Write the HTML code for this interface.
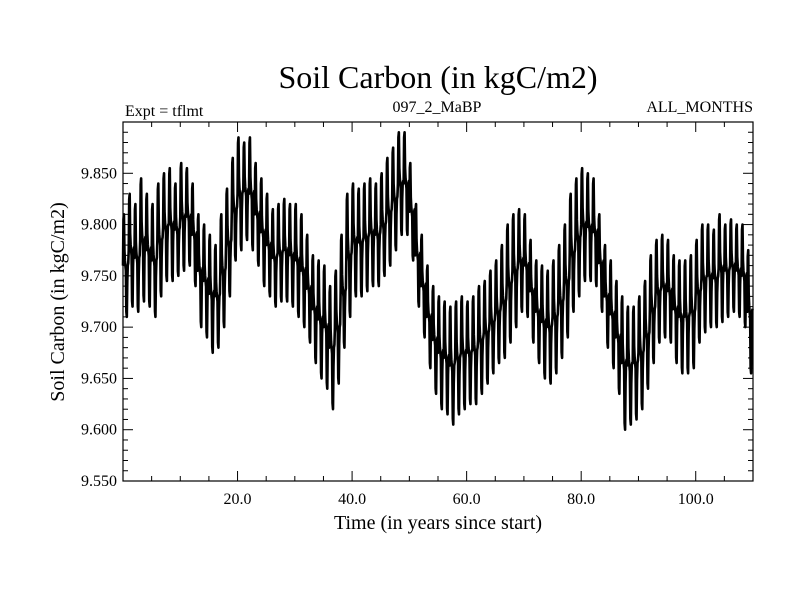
<!DOCTYPE html>
<html><head><meta charset="utf-8"><style>
body{margin:0;background:#fff}
svg text{font-family:"Liberation Serif",serif;fill:#000}
</style></head><body>
<svg id="chart" width="800" height="600" viewBox="0 0 800 600" xmlns="http://www.w3.org/2000/svg">
<rect width="800" height="600" fill="#fff"/>
<text x="438" y="88" font-size="32" text-anchor="middle">Soil Carbon (in kgC/m2)</text>
<text x="125" y="116" font-size="16">Expt = tflmt</text>
<text x="437" y="112" font-size="16" text-anchor="middle">097_2_MaBP</text>
<text x="753" y="112" font-size="16" text-anchor="end">ALL_MONTHS</text>
<text transform="translate(64,302) rotate(-90)" font-size="20" text-anchor="middle">Soil Carbon (in kgC/m2)</text>
<text x="438" y="529" font-size="20" text-anchor="middle">Time (in years since start)</text>
<g id="ticks"></g>
<g id="series"></g>
<rect x="123" y="122" width="630" height="359" fill="none" stroke="#000" stroke-width="1.2"/>
</svg>
<script>
const yearsHigh=[9.81,9.83,9.82,9.845,9.83,9.82,9.84,9.85,9.855,9.84,9.86,9.855,9.84,9.81,9.80,9.79,9.78,9.81,9.835,9.865,9.885,9.88,9.885,9.86,9.845,9.83,9.815,9.82,9.825,9.82,9.82,9.81,9.79,9.77,9.765,9.76,9.74,9.755,9.79,9.83,9.84,9.835,9.84,9.845,9.84,9.85,9.865,9.875,9.89,9.89,9.86,9.82,9.79,9.76,9.74,9.73,9.725,9.72,9.725,9.73,9.725,9.73,9.74,9.745,9.755,9.765,9.78,9.80,9.81,9.815,9.81,9.785,9.765,9.76,9.755,9.765,9.78,9.80,9.83,9.845,9.855,9.85,9.845,9.81,9.78,9.765,9.745,9.73,9.72,9.72,9.73,9.745,9.77,9.785,9.79,9.785,9.77,9.765,9.765,9.77,9.785,9.80,9.80,9.795,9.81,9.80,9.805,9.80,9.80,9.775];
const yearsLow=[9.71,9.72,9.715,9.725,9.72,9.71,9.73,9.745,9.745,9.75,9.755,9.76,9.74,9.70,9.69,9.675,9.68,9.70,9.73,9.765,9.775,9.785,9.775,9.76,9.74,9.73,9.72,9.725,9.725,9.72,9.71,9.70,9.685,9.665,9.65,9.64,9.62,9.645,9.68,9.71,9.73,9.73,9.735,9.74,9.74,9.75,9.76,9.775,9.79,9.79,9.765,9.72,9.69,9.66,9.635,9.62,9.615,9.605,9.615,9.62,9.625,9.625,9.635,9.645,9.655,9.665,9.67,9.685,9.70,9.715,9.71,9.685,9.665,9.65,9.645,9.655,9.67,9.69,9.715,9.73,9.745,9.745,9.74,9.715,9.68,9.66,9.635,9.60,9.605,9.61,9.62,9.64,9.665,9.685,9.69,9.685,9.665,9.655,9.655,9.66,9.685,9.695,9.70,9.70,9.705,9.71,9.715,9.71,9.70,9.655];
const xTickLabels=["20.0","40.0","60.0","80.0","100.0"];
const xTickValues=[20,40,60,80,100];
const yTickLabels=["9.550","9.600","9.650","9.700","9.750","9.800","9.850"];
const yTickValues=[9.55,9.60,9.65,9.70,9.75,9.80,9.85];
const seasonShape=[0,0.9,1,0.3,0.1,0,-0.1,-0.9,-1,-0.3,0,0.05];

const L=123,R=753,T=122,B=481,X0=0,X1=110,Y0=9.55,Y1=9.90;
const sx=v=>L+(v-X0)/(X1-X0)*(R-L);
const sy=v=>B-(v-Y0)/(Y1-Y0)*(B-T);
const NS="http://www.w3.org/2000/svg";
const tg=document.getElementById('ticks');
function line(x1,y1,x2,y2,name){const l=document.createElementNS(NS,'line');l.setAttribute('x1',x1);l.setAttribute('y1',y1);l.setAttribute('x2',x2);l.setAttribute('y2',y2);l.setAttribute('stroke','#000');l.setAttribute('stroke-width','1');


tg.appendChild(l);}
for(let v=5;v<X1;v+=5){const x=sx(v);const len=(v%20===0)?10:5;line(x,B,x,B-len,'x-tick');line(x,T,x,T+len,'x-tick-top');}
for(let k=1;k<35;k++){const v=Y0+k*0.01;const y=sy(v);const len=(k%5===0)?10:5;line(L,y,L+len,y,'y-tick');line(R,y,R-len,y,'y-tick-right');}
xTickValues.forEach((v,i)=>{const t=document.createElementNS(NS,'text');t.setAttribute('x',sx(v));t.setAttribute('y',B+23);t.setAttribute('font-size','16');t.setAttribute('text-anchor','middle');t.textContent=xTickLabels[i];


tg.appendChild(t);});
yTickValues.forEach((v,i)=>{const t=document.createElementNS(NS,'text');t.setAttribute('x',L-6);t.setAttribute('y',sy(v)+5);t.setAttribute('font-size','16');t.setAttribute('text-anchor','end');t.textContent=yTickLabels[i];


tg.appendChild(t);});
let d='';
for(let i=0;i<yearsHigh.length;i++){const mid=(yearsHigh[i]+yearsLow[i])/2;const half=(yearsHigh[i]-yearsLow[i])/2;
for(let m=0;m<12;m++){const v=mid+seasonShape[m]*half;const x=sx(i+m/12);d+=(d?'L':'M')+x.toFixed(2)+','+sy(v).toFixed(2);}}
const p=document.createElementNS(NS,'path');p.setAttribute('d',d);p.setAttribute('fill','none');p.setAttribute('stroke','#000');p.setAttribute('stroke-width','2.6');p.setAttribute('stroke-linejoin','round');


document.getElementById('series').appendChild(p);
</script>
</body></html>
